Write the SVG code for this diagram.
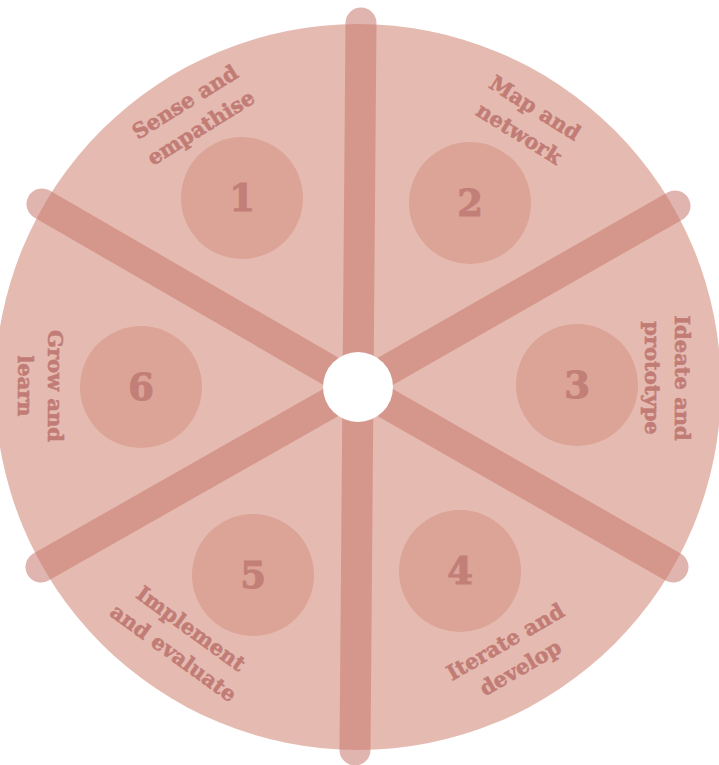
<svg xmlns="http://www.w3.org/2000/svg" width="719" height="765" viewBox="0 0 719 765">
<style>
.bg{fill:#e5bbb1}
.spoke{stroke:rgb(200,120,110);stroke-opacity:0.55;stroke-width:31;stroke-linecap:round;fill:none}
.num-c{fill:#dca397}
.num{font-family:"DejaVu Serif",serif;font-weight:bold;font-size:37px;fill:#c27f78;stroke:#c27f78;stroke-width:1;text-anchor:middle;dominant-baseline:central}
.lbl{font-family:"DejaVu Serif",serif;font-weight:bold;font-size:21px;fill:#c27c76;stroke:#c27c76;stroke-width:0.6;text-anchor:middle}
</style>
<rect width="719" height="765" fill="#ffffff"/>
<circle class="bg" cx="358" cy="387" r="363"/>
<g id="connectors">
<line class="spoke" x1="358" y1="387" x2="361" y2="23"/>
<line class="spoke" x1="358" y1="387" x2="675" y2="206"/>
<line class="spoke" x1="358" y1="387" x2="673" y2="567"/>
<line class="spoke" x1="358" y1="387" x2="355" y2="750"/>
<line class="spoke" x1="358" y1="387" x2="41" y2="567"/>
<line class="spoke" x1="358" y1="387" x2="42" y2="204"/>
</g>
<g id="hub"><circle cx="358" cy="387" r="35" fill="#ffffff"/></g>
<g id="node1">
<circle class="num-c" cx="242" cy="198" r="61"/>
<text class="num" x="242" y="198">1</text>
<g transform="translate(193,115) rotate(-32)"><text class="lbl" x="0" y="-8">Sense and</text><text class="lbl" x="0" y="22">empathise</text></g>
</g>
<g id="node2">
<circle class="num-c" cx="470" cy="203" r="61"/>
<text class="num" x="470" y="203">2</text>
<g transform="translate(527,121) rotate(32)"><text class="lbl" x="0" y="-8">Map and</text><text class="lbl" x="0" y="22">network</text></g>
</g>
<g id="node3">
<circle class="num-c" cx="577" cy="385" r="61"/>
<text class="num" x="577" y="385">3</text>
<g transform="translate(667,378) rotate(90)"><text class="lbl" x="0" y="-8">Ideate and</text><text class="lbl" x="0" y="22">prototype</text></g>
</g>
<g id="node4">
<circle class="num-c" cx="460" cy="571" r="61"/>
<text class="num" x="460" y="571">4</text>
<g transform="translate(513,655) rotate(-30)"><text class="lbl" x="0" y="-8">Iterate and</text><text class="lbl" x="0" y="22">develop</text></g>
</g>
<g id="node5">
<circle class="num-c" cx="253" cy="575" r="61"/>
<text class="num" x="253" y="575">5</text>
<g transform="translate(182,641) rotate(36)"><text class="lbl" x="0" y="-8">Implement</text><text class="lbl" x="0" y="22">and evaluate</text></g>
</g>
<g id="node6">
<circle class="num-c" cx="141" cy="387" r="61"/>
<text class="num" x="141" y="387">6</text>
<g transform="translate(40,386) rotate(90)"><text class="lbl" x="0" y="-8">Grow and</text><text class="lbl" x="0" y="22">learn</text></g>
</g>
</svg>
